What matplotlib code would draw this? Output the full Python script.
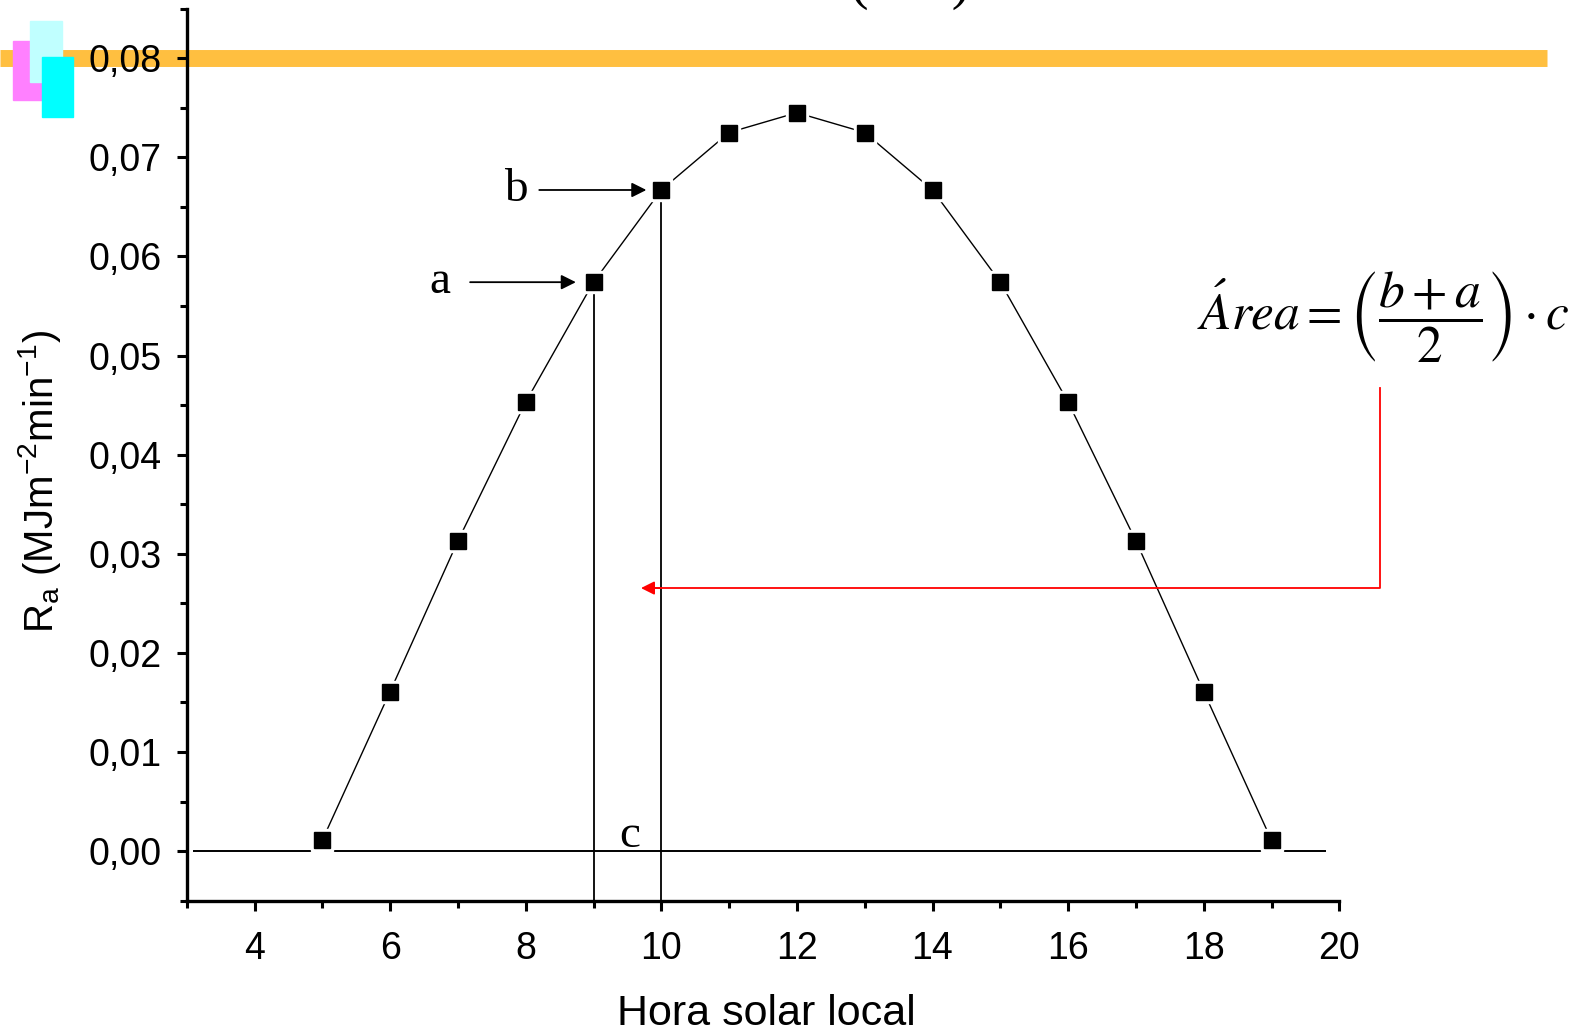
#!/usr/bin/env python3
"""
Extraterrestrial radiation along the day, with trapezoid area sketch.
"""

import matplotlib
matplotlib.use("Agg")
import matplotlib.pyplot as plt
from matplotlib.patches import Rectangle
from matplotlib.ticker import MultipleLocator, FuncFormatter

# data
hours = [5, 6, 7, 8, 9, 10, 11, 12, 13, 14, 15, 16, 17, 18, 19]
ra = [0.0011, 0.0161, 0.0313, 0.0453, 0.0574, 0.0667, 0.0725, 0.0745,
      0.0725, 0.0667, 0.0574, 0.0453, 0.0313, 0.0161, 0.0011]
marked_hours = [9, 10]          # a and b
ref_level = 0.08                # orange band
xlabel = "Hora solar local"
ylabel = r"R$_\mathregular{a}$ (MJm$^\mathregular{-2}$min$^\mathregular{-1}$)"
formula = r"$\acute{A}rea=\left(\dfrac{b+a}{2}\right)\cdot c$"

plt.rcParams["font.family"] = ["Liberation Sans", "DejaVu Sans"]

W, H = 1580, 1032
fig = plt.figure(figsize=(W / 100, H / 100), dpi=100)
ax = fig.add_axes([186.7 / W, 131.3 / H, 1152.6 / W, 892.1 / H])

ax.set_xlim(3, 20)
ax.set_ylim(-0.005, 0.085)

# orange reference band, reaching past the axes
ax.axhline(ref_level, xmin=-0.162, xmax=1.18, color="#FFBF40", lw=12.2,
           solid_capstyle="butt", clip_on=False, zorder=1)

# baseline and verticals under a and b
ax.hlines(0, 3.1, 19.8, color="black", lw=1.4, zorder=2)
for h in marked_hours:
    ax.vlines(h, -0.005, ra[hours.index(h)], color="black", lw=1.3, zorder=2)

# curve with gaps around the markers
ax.plot(hours, ra, color="black", lw=1.0, zorder=3)
ax.plot(hours, ra, ls="none", marker="s", ms=16, mfc="white", mec="white",
        zorder=4)
ax.plot(hours, ra, ls="none", marker="s", ms=11.5, mfc="black", mec="black",
        zorder=5)

# a / b labels with arrows
serif = ["Liberation Serif", "DejaVu Serif"]
ya = ra[hours.index(9)]
yb = ra[hours.index(10)]
arrow = dict(arrowstyle="-|>", color="black", lw=1.3, mutation_scale=22,
             shrinkA=0, shrinkB=0)
ax.annotate("", xy=(8.74, ya), xytext=(7.18, ya), arrowprops=arrow)
ax.annotate("", xy=(9.78, yb), xytext=(8.2, yb), arrowprops=arrow)
ax.text(6.74, ya, "a", family=serif, fontsize=34, ha="center", va="center")
ax.text(7.86, yb, "b", family=serif, fontsize=34, ha="center", va="center")
ax.text(9.54, 0.0004, "c", family=serif, fontsize=34, ha="center",
        va="baseline")

# formula and red pointer
ax.text(0.8766, 0.654, formula, transform=ax.transAxes, fontsize=37,
        math_fontfamily="stix", ha="left", va="center", clip_on=False)
ax.plot([20.6, 20.6, 9.9], [0.0467, 0.02654, 0.02654], color="red", lw=1.3,
        clip_on=False, zorder=3)
ax.annotate("", xy=(9.7, 0.02654), xytext=(10.0, 0.02654),
            arrowprops=dict(arrowstyle="-|>", color="red", lw=1.3,
                            mutation_scale=20, shrinkA=0, shrinkB=0))

# axes styling
for side in ["top", "right"]:
    ax.spines[side].set_visible(False)
for side in ["left", "bottom"]:
    ax.spines[side].set_linewidth(2.4)
ax.xaxis.set_major_locator(MultipleLocator(2))
ax.xaxis.set_minor_locator(MultipleLocator(1))
ax.yaxis.set_major_locator(MultipleLocator(0.01))
ax.yaxis.set_minor_locator(MultipleLocator(0.005))
ax.yaxis.set_major_formatter(
    FuncFormatter(lambda v, p: f"{v:.2f}".replace(".", ",")))
ax.tick_params(which="major", length=7, width=2.2, labelsize=27)
ax.tick_params(which="minor", length=5, width=2.2)
ax.tick_params(axis="x", which="major", pad=15)
ax.tick_params(axis="y", which="major", pad=11)

ax.set_xlabel(xlabel, fontsize=31)
ax.set_ylabel(ylabel, fontsize=29)
ax.xaxis.set_label_coords(0.5026, -0.105)
ax.yaxis.set_label_coords(-0.107, 0.47)

# small coloured squares at the top left
for x0, y0, x1, y1, c in [(13, 41, 42, 100, "#FF80FF"),
                          (30, 21, 62, 82, "#C0FFFF"),
                          (42, 57, 73, 117, "#00FFFF")]:
    fig.patches.append(Rectangle((x0 / W, 1 - y1 / H), (x1 - x0) / W,
                                 (y1 - y0) / H, transform=fig.transFigure,
                                 color=c, zorder=10))

# cut-off brackets at the very top
fig.text(910 / W, 1 - 10 / H, "(      )", family=serif, fontsize=40,
         ha="center", va="bottom")

fig.savefig("out.png", dpi=100)
